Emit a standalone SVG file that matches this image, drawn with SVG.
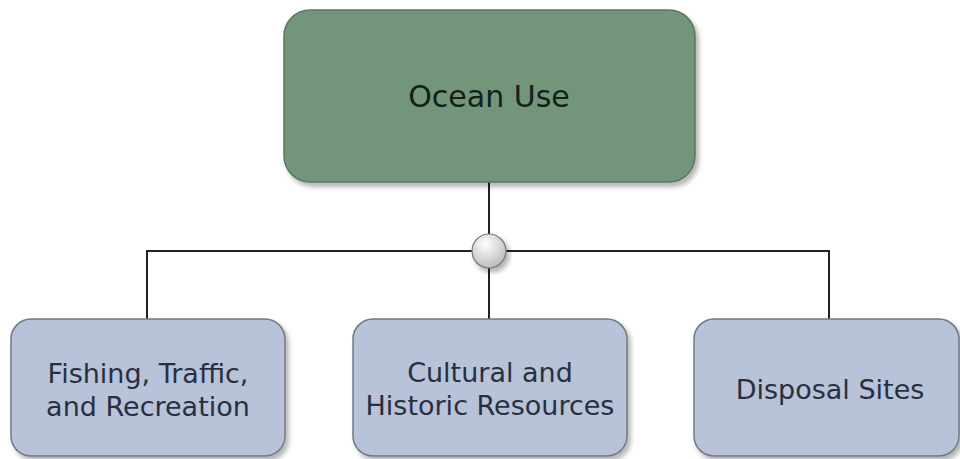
<svg xmlns="http://www.w3.org/2000/svg" width="960" height="459" viewBox="0 0 960 459">
<defs>
<filter id="sh" x="-10%" y="-10%" width="125%" height="130%">
<feGaussianBlur in="SourceAlpha" stdDeviation="2.5"/>
<feOffset dx="3" dy="4" result="b"/>
<feComponentTransfer><feFuncA type="linear" slope="0.3"/></feComponentTransfer>
<feMerge><feMergeNode/><feMergeNode in="SourceGraphic"/></feMerge>
</filter>
<radialGradient id="cg" cx="40%" cy="30%" r="75%">
<stop offset="0" stop-color="#ffffff"/>
<stop offset="1" stop-color="#b8b8b8"/>
</radialGradient>
</defs>
<style>
.top{fill:#73967a;stroke:#5e7563;stroke-width:1.5}
.leaf{fill:#b8c2d8;stroke:#737885;stroke-width:1.5}
.t{font-family:"DejaVu Sans",Verdana,sans-serif;text-anchor:middle}
.tt{font-size:30px;fill:#14201a}
.lt{font-size:27px;fill:#283040}
.c{stroke:#222;stroke-width:2;fill:none}
</style>
<rect width="960" height="459" fill="#ffffff"/>
<g id="connectors">
<path class="c" d="M489 182 V251"/>
<path class="c" d="M147 319 V251 H829 V319"/>
<path class="c" d="M489 251 V319"/>
</g>
<g id="junction">
<circle cx="489" cy="251" r="17" fill="url(#cg)" stroke="#777" stroke-width="1.2" filter="url(#sh)"/>
</g>
<g id="ocean-use">
<rect class="top" x="284" y="10" width="411" height="172" rx="26" filter="url(#sh)"/>
<text class="t tt" x="489" y="107">Ocean Use</text>
</g>
<g id="fishing">
<rect class="leaf" x="11" y="319" width="274" height="137" rx="20" filter="url(#sh)"/>
<text class="t lt" x="148" y="383">Fishing, Traffic,</text>
<text class="t lt" x="148" y="416">and Recreation</text>
</g>
<g id="cultural">
<rect class="leaf" x="353" y="319" width="274" height="137" rx="20" filter="url(#sh)"/>
<text class="t lt" x="490" y="382">Cultural and</text>
<text class="t lt" x="490" y="415">Historic Resources</text>
</g>
<g id="disposal">
<rect class="leaf" x="694" y="319" width="265" height="137" rx="20" filter="url(#sh)"/>
<text class="t lt" x="830" y="399">Disposal Sites</text>
</g>
</svg>
